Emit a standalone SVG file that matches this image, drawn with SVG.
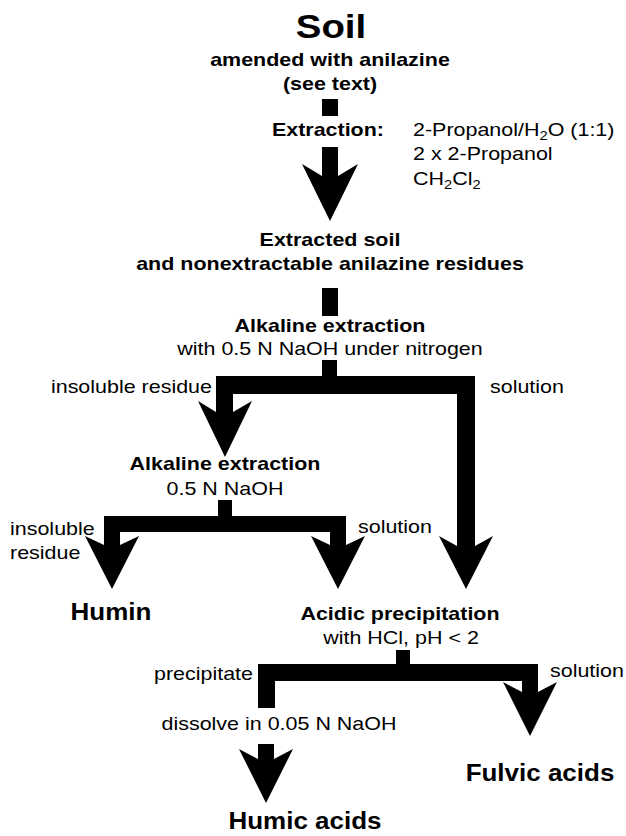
<svg xmlns="http://www.w3.org/2000/svg" width="626" height="836" viewBox="0 0 626 836">
<style>
text{font-family:"Liberation Sans",Arial,Helvetica,sans-serif;fill:#000}
.b{font-weight:bold;font-size:19px}
.r{font-weight:normal;font-size:19px}
.big{font-weight:bold;font-size:23px}
.title{font-weight:bold;font-size:34px}
.m{text-anchor:middle}
.e{text-anchor:end}
.k{fill:#000;stroke:none}
</style>
<rect x="0" y="0" width="626" height="836" fill="#fff"/>
<g id="soil">
<text class="title m" transform="translate(331 38) scale(1.13 1)">Soil</text>
<text class="b m" transform="translate(330 66) scale(1.13 1)">amended with anilazine</text>
<text class="b m" transform="translate(330 90) scale(1.13 1)">(see text)</text>
</g>
<g id="extraction">
<text class="b e" transform="translate(384 136) scale(1.13 1)">Extraction:</text>
<text class="r" transform="translate(413 136) scale(1.13 1)">2-Propanol/H<tspan dy="4" font-size="13">2</tspan><tspan dy="-4">O (1:1)</tspan></text>
<text class="r" transform="translate(413 160) scale(1.13 1)">2 x 2-Propanol</text>
<text class="r" transform="translate(413 185) scale(1.13 1)">CH<tspan dy="4" font-size="13">2</tspan><tspan dy="-4">Cl</tspan><tspan dy="4" font-size="13">2</tspan></text>
</g>
<g id="extracted-soil">
<text class="b m" transform="translate(330 246) scale(1.13 1)">Extracted soil</text>
<text class="b m" transform="translate(330 270) scale(1.13 1)">and nonextractable anilazine residues</text>
</g>
<g id="alkaline-extraction-1">
<text class="b m" transform="translate(330 332) scale(1.13 1)">Alkaline extraction</text>
<text class="r m" transform="translate(330 355) scale(1.13 1)">with 0.5 N NaOH under nitrogen</text>
</g>
<g id="alkaline-extraction-2">
<text class="b m" transform="translate(225 470) scale(1.13 1)">Alkaline extraction</text>
<text class="r m" transform="translate(225 495) scale(1.13 1)">0.5 N NaOH</text>
</g>
<g id="humin">
<text class="big m" transform="translate(111 620) scale(1.13 1)">Humin</text>
</g>
<g id="acidic-precipitation">
<text class="b m" transform="translate(400 620) scale(1.13 1)">Acidic precipitation</text>
<text class="r m" transform="translate(401 644) scale(1.13 1)">with HCl, pH &lt; 2</text>
</g>
<g id="fulvic-acids">
<text class="big m" transform="translate(540 781) scale(1.13 1)">Fulvic acids</text>
</g>
<g id="humic-acids">
<text class="big m" transform="translate(305 829) scale(1.13 1)">Humic acids</text>
</g>
<g id="connectors">
<rect class="k" x="322" y="99" width="16" height="17"/>
<polygon class="k" points="322,147 338,147 338,176 358,164 330,221 302,164 322,176"/>
<rect class="k" x="322" y="288" width="16" height="28"/>
<rect class="k" x="322" y="360" width="15" height="20"/>
<rect class="k" x="216" y="376" width="259" height="18"/>
<polygon class="k" points="216,380 233,380 233,412 252,401 225,457 198,401 216,412"/>
<polygon class="k" points="457,380 475,380 475,546 493,536 466,589 439,536 457,546"/>
<text class="r e" transform="translate(212 393) scale(1.13 1)">insoluble residue</text>
<text class="r" transform="translate(490 393) scale(1.13 1)">solution</text>
<rect class="k" x="218" y="500" width="14" height="18"/>
<rect class="k" x="104" y="516" width="242" height="16"/>
<polygon class="k" points="104,520 120,520 120,545 139,536 112,589 85,536 104,545"/>
<polygon class="k" points="330,520 346,520 346,545 365,536 338,589 311,536 330,545"/>
<text class="r" transform="translate(10 535) scale(1.13 1)">insoluble</text>
<text class="r" transform="translate(10 559) scale(1.13 1)">residue</text>
<text class="r" transform="translate(358 533) scale(1.13 1)">solution</text>
<rect class="k" x="396" y="650" width="14" height="16"/>
<rect class="k" x="258" y="664" width="280" height="17"/>
<rect class="k" x="258" y="664" width="17" height="44"/>
<polygon class="k" points="522,668 538,668 538,692 557,682 530,736 503,682 522,692"/>
<polygon class="k" points="258,744 274,744 274,759 293,749 266,803 239,749 258,759"/>
<text class="r e" transform="translate(253 680) scale(1.13 1)">precipitate</text>
<text class="r" transform="translate(550 677) scale(1.13 1)">solution</text>
<text class="r m" transform="translate(279 730) scale(1.13 1)">dissolve in 0.05 N NaOH</text>
</g>
</svg>
